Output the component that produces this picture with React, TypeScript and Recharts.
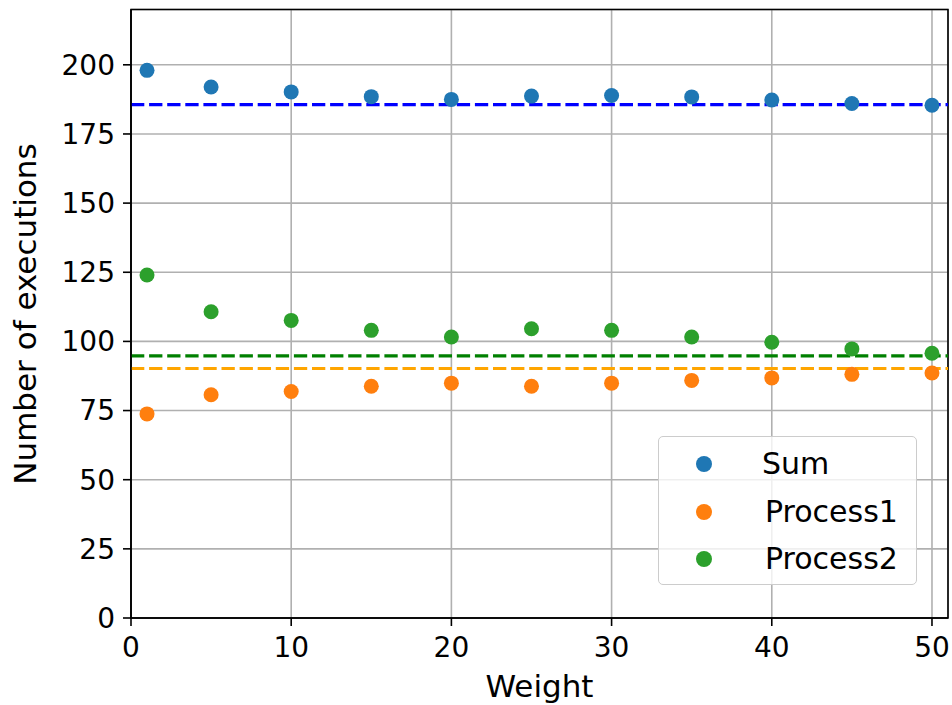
import React from "react";
import {
  ScatterChart,
  Scatter,
  XAxis,
  YAxis,
  CartesianGrid,
  ReferenceLine,
  ReferenceArea,
  Label,
} from "recharts";

const weights = [1, 5, 10, 15, 20, 25, 30, 35, 40, 45, 50];
const sumValues = [198.0, 192.0, 190.2, 188.5, 187.5, 188.7, 188.9, 188.4, 187.3, 186.0, 185.4];
const process1Values = [73.8, 80.7, 81.9, 83.8, 84.9, 83.8, 84.9, 85.9, 86.8, 88.1, 88.6];
const process2Values = [124.0, 110.7, 107.6, 104.0, 101.6, 104.6, 104.0, 101.6, 99.7, 97.3, 95.7];

const sumMean = 185.6;
const process1Mean = 90.2;
const process2Mean = 94.8;

const xTicks = [0, 10, 20, 30, 40, 50];
const yTicks = [0, 25, 50, 75, 100, 125, 150, 175, 200];

const seriesNames = ["Sum", "Process1", "Process2"];
const seriesColors = ["#1f77b4", "#ff7f0e", "#2ca02c"];

const toPoints = (vals: number[]) => weights.map((w, i) => ({ x: w, y: vals[i] }));
const sumData = toPoints(sumValues);
const p1Data = toPoints(process1Values);
const p2Data = toPoints(process2Values);

const FONT = "'DejaVu Sans', sans-serif";

const dot = (color: string) => (props: any) => (
  <circle cx={props.cx} cy={props.cy} r={7.5} fill={color} />
);

const LegendBox = () => (
  <div
    style={{
      position: "absolute",
      left: 658,
      top: 436,
      width: 257,
      height: 147,
      border: "1px solid #cccccc",
      borderRadius: 5,
      background: "rgba(255,255,255,0.8)",
      fontFamily: FONT,
      fontSize: 30,
      color: "#000",
    }}
  >
    {seriesNames.map((n, i) => (
      <div
        key={n}
        style={{
          position: "absolute",
          left: 0,
          top: 27 + i * 47.5 - 20,
          height: 40,
          display: "flex",
          alignItems: "center",
          whiteSpace: "nowrap",
        }}
      >
        <span
          style={{
            display: "inline-block",
            width: 16,
            height: 16,
            borderRadius: 8,
            background: seriesColors[i],
            marginLeft: 37,
          }}
        />
        <span style={{ marginLeft: i === 0 ? 50 : 53, lineHeight: "40px" }}>{n}</span>
      </div>
    ))}
  </div>
);

export default function App() {
  return (
    <div style={{ position: "absolute", left: 0, top: 0, width: 952, height: 705 }}>
      <ScatterChart
        width={952}
        height={705}
        margin={{ top: 9.5, right: 4, bottom: 0, left: 0 }}
        style={{ fontFamily: FONT }}
      >
        <CartesianGrid stroke="#b0b0b0" strokeWidth={1.6} />
        <XAxis
          type="number"
          dataKey="x"
          domain={[0, 51]}
          ticks={xTicks}
          allowDataOverflow
          height={87}
          tick={{ fill: "#000", fontSize: 28, fontFamily: FONT }}
          tickLine={{ stroke: "#000", strokeWidth: 1.6 }}
          axisLine={{ stroke: "#000", strokeWidth: 1.6 }}
          tickSize={8}
          tickMargin={11}
        >
          <Label
            content={() => (
              <text x={539.5} y={697} textAnchor="middle" fontSize={31} fontFamily={FONT} fill="#000">
                Weight
              </text>
            )}
          />
        </XAxis>
        <YAxis
          type="number"
          dataKey="y"
          domain={[0, 220]}
          ticks={yTicks}
          allowDataOverflow
          width={131}
          tick={{ fill: "#000", fontSize: 28, fontFamily: FONT }}
          tickLine={{ stroke: "#000", strokeWidth: 1.6 }}
          axisLine={{ stroke: "#000", strokeWidth: 1.6 }}
          tickSize={8}
          tickMargin={8}
        >
          <Label
            content={() => (
              <text
                x={36}
                y={314}
                transform="rotate(-90 36 314)"
                textAnchor="middle"
                fontSize={31}
                fontFamily={FONT}
                fill="#000"
              >
                Number of executions
              </text>
            )}
          />
        </YAxis>
        <ReferenceArea
          x1={0}
          x2={51}
          y1={0}
          y2={220}
          fill="none"
          fillOpacity={0}
          stroke="#000"
          strokeWidth={1.6}
          ifOverflow="visible"
        />
        <Scatter name="Sum" data={sumData} fill={seriesColors[0]} shape={dot(seriesColors[0])} isAnimationActive={false} />
        <Scatter name="Process1" data={p1Data} fill={seriesColors[1]} shape={dot(seriesColors[1])} isAnimationActive={false} />
        <Scatter name="Process2" data={p2Data} fill={seriesColors[2]} shape={dot(seriesColors[2])} isAnimationActive={false} />
        <ReferenceLine y={sumMean} stroke="#0000ff" strokeWidth={3.2} strokeDasharray="13.3 4.8" />
        <ReferenceLine y={process1Mean} stroke="#ffa500" strokeWidth={3.2} strokeDasharray="13.3 4.8" />
        <ReferenceLine y={process2Mean} stroke="#008000" strokeWidth={3.2} strokeDasharray="13.3 4.8" />
      </ScatterChart>
      <LegendBox />
    </div>
  );
}
